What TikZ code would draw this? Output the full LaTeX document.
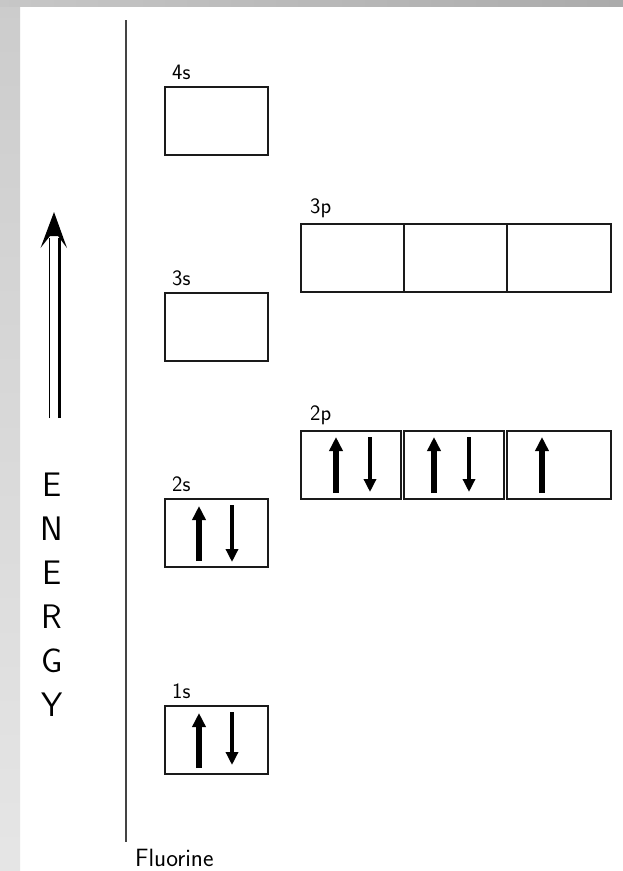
\documentclass[tikz,border=0pt]{standalone}
\usetikzlibrary{arrows.meta}
\definecolor{frameedge}{HTML}{444444}
\definecolor{boxline}{HTML}{1A1A1A}
\tikzset{
  orbital/.style={draw=boxline, line width=1.2pt, minimum width=#1, minimum height=68pt,
    inner sep=0pt, outer sep=0pt, anchor=north west},
  orbital/.default=103pt,
  sublabel/.style={font=\sffamily\fontsize{22}{24}\selectfont, anchor=base west, inner sep=0pt},
  spinup/.style={line width=5.5pt, -{Triangle[width=13pt,length=14pt]}},
  spindown/.style={line width=4pt, -{Triangle[width=12pt,length=13pt]}},
  axisletter/.style={font=\sffamily\fontsize{34}{36}\selectfont, inner sep=0pt}
}
\begin{document}
\begin{tikzpicture}[x=1pt,y=-1pt]
  \useasboundingbox (0,0) rectangle (623,871);
  \fill[white] (0,0) rectangle (623,871);
  % slide border shading
  \shade[top color=black!20, bottom color=black!10] (0,0) rectangle (20,871);
  \shade[left color=black!22, right color=black!33] (0,0) rectangle (623,6);

  % energy axis
  \coordinate (axtop) at (126,20);
  \coordinate (axbot) at (126,842);
  \draw[frameedge, line width=2pt] (axtop) -- (axbot);

  % energy arrow: two shafts and a notched head
  \coordinate (tip) at (54,212);
  \draw[black, line width=1.5pt] (49.5,418) -- (49.5,238);
  \draw[black, line width=3pt] (59.5,418) -- (59.5,238);
  \fill[black] (tip) -- (67,248) -- (58,236) -- (50,236) -- (40.5,248) -- cycle;

  \foreach \ch [count=\i from 0] in {E,N,E,R,G,Y}
    \node[axisletter] (en\i) at (52,485+44*\i) {\ch};

  % s orbitals
  \node[orbital] (s4) at (165,87) {};
  \node[orbital] (s3) at (165,293) {};
  \node[orbital] (s2) at (165,499) {};
  \node[orbital] (s1) at (165,706) {};
  \node[sublabel] (l4s) at (172,79) {4s};
  \node[sublabel] (l3s) at (172,285) {3s};
  \node[sublabel] (l2s) at (172,491) {2s};
  \node[sublabel] (l1s) at (172,698) {1s};

  % 3p orbitals (shared walls)
  \node[orbital] (p3a) at (301,224) {};
  \node[orbital] (p3b) at (404,224) {};
  \node[orbital=104pt] (p3c) at (507,224) {};
  \node[sublabel] (l3p) at (310,213) {3p};

  % 2p orbitals (separate boxes)
  \node[orbital=100pt] (p2a) at (301,431) {};
  \node[orbital=100pt] (p2b) at (404,431) {};
  \node[orbital=104pt] (p2c) at (507,431) {};
  \node[sublabel] (l2p) at (310,420) {2p};

  % electrons
  \draw[spinup] ([xshift=34pt,yshift=6pt]s2.south west) -- ([xshift=34pt,yshift=-7pt]s2.north west);
  \draw[spindown] ([xshift=67pt,yshift=-6pt]s2.north west) -- ([xshift=67pt,yshift=5pt]s2.south west);
  \draw[spinup] ([xshift=34pt,yshift=6pt]s1.south west) -- ([xshift=34pt,yshift=-7pt]s1.north west);
  \draw[spindown] ([xshift=67pt,yshift=-6pt]s1.north west) -- ([xshift=67pt,yshift=9pt]s1.south west);

  \draw[spinup] ([xshift=35pt,yshift=6pt]p2a.south west) -- ([xshift=35pt,yshift=-6pt]p2a.north west);
  \draw[spindown] ([xshift=69pt,yshift=-6pt]p2a.north west) -- ([xshift=69pt,yshift=7pt]p2a.south west);
  \draw[spinup] ([xshift=30pt,yshift=6pt]p2b.south west) -- ([xshift=30pt,yshift=-6pt]p2b.north west);
  \draw[spindown] ([xshift=65pt,yshift=-6pt]p2b.north west) -- ([xshift=65pt,yshift=7pt]p2b.south west);
  \draw[spinup] ([xshift=35pt,yshift=6pt]p2c.south west) -- ([xshift=35pt,yshift=-6pt]p2c.north west);

  % element name
  \node[font=\sffamily\fontsize{25}{28}\selectfont, anchor=base west, inner sep=0pt] (elem) at (135,866) {Fluorine};
\end{tikzpicture}
\end{document}
